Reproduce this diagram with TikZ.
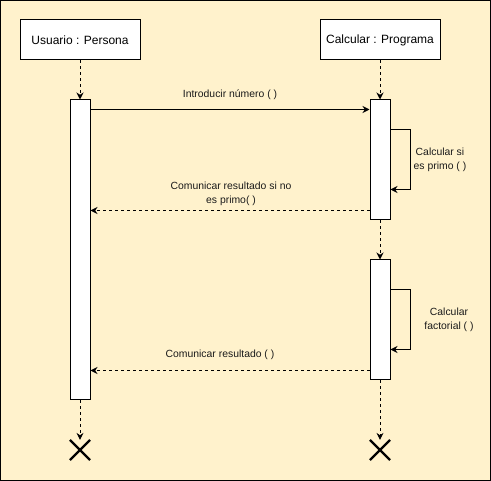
\documentclass[tikz,border=0pt]{standalone}
\usepackage{fontspec}
\setmainfont{Liberation Sans}
\usetikzlibrary{arrows.meta,shapes.misc}
\definecolor{bgc}{HTML}{FFF2CC}
\definecolor{txt}{HTML}{1A1A1A}
\begin{document}
\begin{tikzpicture}[x=1pt,y=-1pt,
  font=\fontsize{12}{14}\selectfont,
  actor/.style={draw=black,fill=white,line width=1pt,minimum width=120pt,minimum height=40pt,inner sep=0pt},
  actbar/.style={draw=black,fill=white,line width=1pt,minimum width=20pt,inner sep=0pt},
  xmark/.style={cross out,draw=black,line width=2.2pt,minimum width=18pt,minimum height=18pt,inner sep=0pt},
  life/.style={line width=1pt,dash pattern=on 3pt off 3pt,-{Stealth[length=7pt,width=7pt]}},
  msg/.style={line width=1pt,-{Stealth[length=7pt,width=7pt]}},
  ret/.style={line width=1pt,dash pattern=on 3pt off 3pt,-{Stealth[length=7pt,width=7pt]}},
  lbl/.style={text=txt,align=center,inner sep=0pt,font=\fontsize{10.4}{14}\selectfont}
]
\useasboundingbox (0,0) rectangle (491,481);
\draw[fill=bgc,line width=1pt] (0.5,0.5) rectangle (490.5,480.5);

\node[actor] (u) at (80,40) {Usuario : Persona};
\node[actor] (c) at (380,40) {Calcular : Programa};
\node[actbar,minimum height=300pt] (ua) at (80,250) {};
\node[actbar,minimum height=120pt] (ca1) at (380,160) {};
\node[actbar,minimum height=120pt] (ca2) at (380,320) {};
\node[xmark] (ux) at (80,450) {};
\node[xmark] (cx) at (380,450) {};

\draw[life] (u.south) -- (ua.north);
\draw[life] (ua.south) -- (ux.north);
\draw[life] (c.south) -- (ca1.north);
\draw[life] (ca1.south) -- (ca2.north);
\draw[life] (ca2.south) -- (cx.north);

\draw[msg] ([yshift=-10pt]ua.north east) -- ([yshift=-10pt]ca1.north west)
  node[lbl,pos=0.5,above=9pt] (l1) {Introducir número ( )};
\draw[msg] ([yshift=-30pt]ca1.north east) -- ++(20,0) |- ([yshift=-90pt]ca1.north east);
\node[lbl] (l2) at (440,160) {Calcular si\\es primo ( )};
\draw[ret] ([yshift=10pt]ca1.south west) -- ([yshift=10pt]ca1.south west -| ua.east);
\node[lbl] (l3) at (231,194) {Comunicar resultado si no\\es primo( )};
\draw[msg] ([yshift=-30pt]ca2.north east) -- ++(20,0) |- ([yshift=-90pt]ca2.north east);
\node[lbl] (l4) at (449,320) {Calcular\\factorial ( )};
\draw[ret] ([yshift=10pt]ca2.south west) -- ([yshift=10pt]ca2.south west -| ua.east);
\node[lbl] (l5) at (220,355) {Comunicar resultado ( )};
\end{tikzpicture}
\end{document}
